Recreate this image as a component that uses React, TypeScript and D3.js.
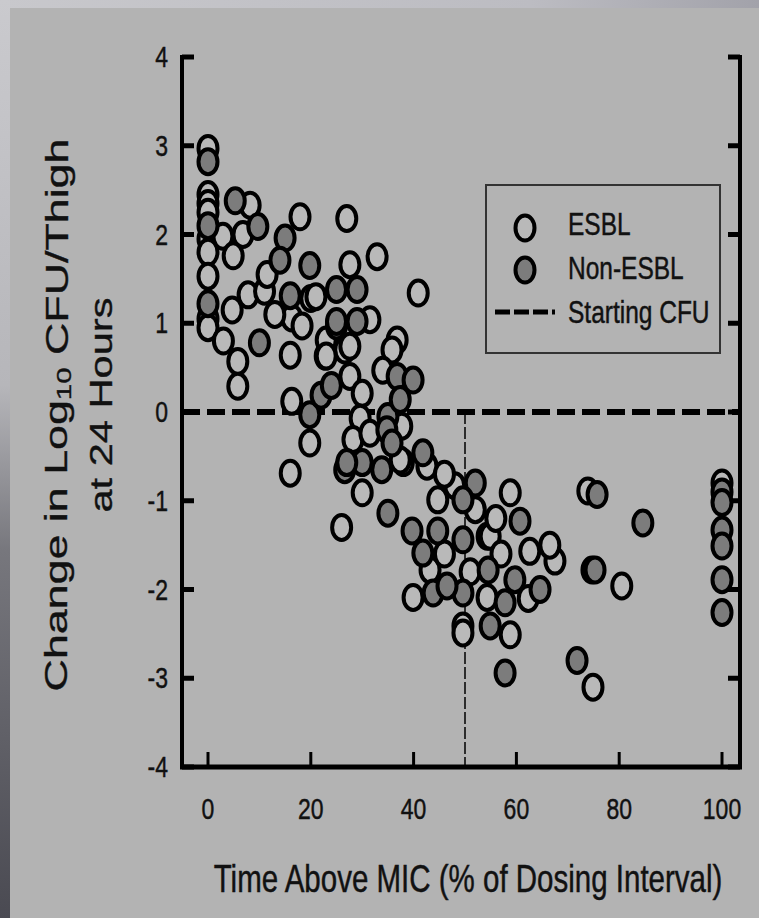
import React from "react";
import * as d3 from "d3";

const xTicks = [0, 20, 40, 60, 80, 100];
const yTicks = [4, 3, 2, 1, 0, -1, -2, -3, -4];

// ESBL (open markers): [time above MIC %, change in log10 CFU]
const esblX = [0, 0, 0, 0, 0, 0, 0, 0, 0,
  2.9, 6.8, 8.2, 17.9, 4.9, 7.8, 11, 20, 4.7, 16.3, 3, 5.8, 5.8, 16, 16.3, 19.8, 16, 26, 22.8, 26.6, 18.3,
  27, 32.9, 40.9, 27.6, 21, 31.5, 23, 27.6, 36.8, 35.8, 23, 34, 27.6, 30, 29.6, 11.5, 13,
  28.2, 38, 30, 44.7, 54.3, 39.9, 43.2, 49.6, 31.5, 37.7, 37.4, 48, 58.8, 54.9, 62.6, 67.5, 66.5,
  54.3, 62.3, 49.6, 58.8, 73.9, 74.7, 80.5, 74.9, 100, 42.6, 46, 52, 56, 57, 46, 51];
const esblY = [2.97, 2.45, 2.35, 2.25, 1.95, 1.8, 1.53, 1.05, 0.95,
  1.98, 2.0, 2.33, 2.2, 1.76, 1.32, 1.36, 1.28, 1.15, 1.06, 0.8, 0.57, 0.29, 0.64, 0.12, -0.35, -0.69, -1.3, 0.63, 0.7, 0.97,
  2.18, 1.75, 1.34, 1.66, 1.3, 1.04, 0.81, 0.74, 0.81, 0.7, 0.63, 0.47, 0.4, 0.21, -0.07, 1.55, 1.1,
  -0.31, -0.57, -0.91, -0.99, -1.4, -2.09, -1.78, -2.41, -0.24, -0.16, -0.54, -0.83, -0.91, -1.4, -1.57, -1.68, -1.5,
  -2.09, -2.1, -2.49, -2.51, -0.89, -1.78, -1.96, -3.1, -0.8, -0.61, -0.7, -1.1, -1.2, -1.6, -1.6, -1.8];

// Non-ESBL (filled markers)
const nonX = [0, 0, 0, 5.3, 9.7, 15, 14, 19.8, 16, 10, 19.8, 22, 24, 26.6, 25,
  25, 29, 25, 29, 36.8, 39.9, 35, 37.4,
  30, 33.8, 27, 34.8, 35.8, 41.8, 35, 39.7, 44.7, 41.8, 52, 49.6, 49.6, 54.5, 43.8, 49.6, 54.9,
  60.7, 59.7, 64.6, 57.8, 57.8, 75.7, 84.6, 75.3, 71.8, 46.5,
  100, 100, 100, 100, 100, 100];
const nonY = [2.82, 2.1, 1.22, 2.38, 2.09, 1.96, 1.71, 1.65, 1.31, 0.78, -0.03, 0.19, 0.3, -0.65, 0.97,
  1.38, 1.38, 1.02, 1.02, 0.4, 0.36, -0.05, 0.14,
  -0.57, -0.65, -0.57, -0.2, -0.35, -0.46, -1.14, -1.34, -1.34, -1.59, -0.8, -0.99, -1.44, -1.78, -2.04, -2.04, -2.41,
  -1.23, -1.89, -2.0, -2.15, -2.94, -0.93, -1.25, -1.78, -2.8, -1.96,
  -0.9, -1.02, -1.33, -1.51, -1.89, -2.26];

const legendLabels = ["ESBL", "Non-ESBL", "Starting CFU"];
const xTitle = "Time Above MIC (% of Dosing Interval)";
const thresholdX = 50;

const W = 759;
const H = 918;
const FONT = "'Liberation Sans', Arial, Helvetica, sans-serif";
const SY = 1.3;
const TXT = { fill: "#111", stroke: "#111", strokeWidth: 0.35 };

export default function App() {
  const x = d3.scaleLinear().domain([0, 100]).range([208, 722]);
  const y = d3.scaleLinear().domain([-4, 4]).range([767, 57]);
  const axL = 182;
  const axR = 740;
  const axB = 767;
  const axT = 55;
  const rx = 9.5;
  const ry = 12.5;
  const esbl = esblX.map((v, i) => ({ x: v, y: esblY[i] }));
  const non = nonX.map((v, i) => ({ x: v, y: nonY[i] }));

  return (
    <svg width={W} height={H} style={{ position: "absolute", left: 0, top: 0, display: "block" }} fontFamily={FONT}>
      <defs>
        <linearGradient id="leftEdge" x1="0" y1="0" x2="0" y2="1">
          <stop offset="0" stopColor="#cacace" />
          <stop offset="0.42" stopColor="#b6b6ba" />
          <stop offset="0.6" stopColor="#77777d" />
          <stop offset="1" stopColor="#4a4a52" />
        </linearGradient>
        <linearGradient id="topEdge" x1="0" y1="0" x2="1" y2="0">
          <stop offset="0" stopColor="#c8c8cc" />
          <stop offset="0.7" stopColor="#bcbcc2" />
          <stop offset="1" stopColor="#a2a2aa" />
        </linearGradient>
      </defs>
      <rect x={0} y={0} width={W} height={H} fill="#b3b3b3" />
      <rect x={0} y={0} width={W} height={8} fill="url(#topEdge)" />
      <rect x={0} y={0} width={10} height={H} fill="url(#leftEdge)" />

      {/* zero line */}
      <line x1={axL} x2={axR} y1={y(0)} y2={y(0)} stroke="#000" strokeWidth={6} strokeDasharray="18 7" />
      {/* 50% vertical dashed */}
      <line x1={x(thresholdX)} x2={x(thresholdX)} y1={y(0)} y2={axB} stroke="#000" strokeWidth={1.5} strokeDasharray="12 3" />

      {/* axes */}
      <line x1={axL} x2={axL} y1={axT} y2={axB + 2} stroke="#000" strokeWidth={4} />
      <line x1={axR} x2={axR} y1={axT} y2={axB + 2} stroke="#000" strokeWidth={4} />
      <line x1={axL - 2} x2={axR + 2} y1={axB} y2={axB} stroke="#000" strokeWidth={5} />
      {yTicks.map((t) => (
        <g key={"yt" + t}>
          <line x1={axL} x2={axL + 12} y1={y(t)} y2={y(t)} stroke="#000" strokeWidth={5} />
          <line x1={axR} x2={axR - 12} y1={y(t)} y2={y(t)} stroke="#000" strokeWidth={5} />
          <text transform={`translate(168,${y(t)}) scale(1,${SY})`} textAnchor="end" dominantBaseline="central" fontSize={23} {...TXT}>
            {t}
          </text>
        </g>
      ))}
      {xTicks.map((t) => (
        <g key={"xt" + t}>
          <line x1={x(t)} x2={x(t)} y1={axB} y2={axB - 15} stroke="#000" strokeWidth={3} />
          <text transform={`translate(${x(t)},809) scale(1,${SY})`} textAnchor="middle" dominantBaseline="central" fontSize={23} {...TXT}>
            {t}
          </text>
        </g>
      ))}

      {/* points */}
      {esbl.map((d, i) => (
        <ellipse key={"e" + i} cx={x(d.x)} cy={y(d.y)} rx={rx} ry={ry} fill="#b9b9b9" stroke="#000" strokeWidth={4} />
      ))}
      {non.map((d, i) => (
        <ellipse key={"n" + i} cx={x(d.x)} cy={y(d.y)} rx={rx} ry={ry} fill="#7c7c7c" stroke="#000" strokeWidth={4} />
      ))}

      {/* legend */}
      <rect x={486} y={185} width={234} height={168} fill="#b3b3b3" stroke="#333" strokeWidth={2} />
      <ellipse cx={525} cy={228} rx={rx} ry={ry} fill="#b9b9b9" stroke="#000" strokeWidth={4} />
      <ellipse cx={525} cy={270} rx={rx} ry={ry} fill="#7c7c7c" stroke="#000" strokeWidth={4} />
      <line x1={495} x2={555} y1={312} y2={312} stroke="#000" strokeWidth={5} strokeDasharray="15 4" />
      {legendLabels.map((l, i) => (
        <text key={l} transform={`translate(568,${235 + i * 44}) scale(1,${SY})`} fontSize={24.5} {...TXT}>
          {l}
        </text>
      ))}

      {/* axis titles */}
      <text transform={`translate(468,892) scale(1,${SY})`} textAnchor="middle" fontSize={29.5} {...TXT}>
        {xTitle}
      </text>
      <text transform={`translate(56,415) rotate(-90) scale(1.4,1)`} textAnchor="middle" dominantBaseline="central" fontSize={32} {...TXT}>
        Change in Log<tspan fontSize={21} dy={8}>10</tspan><tspan dy={-8}> CFU/Thigh</tspan>
      </text>
      <text transform={`translate(101,405) rotate(-90) scale(1.3,1)`} textAnchor="middle" dominantBaseline="central" fontSize={32} {...TXT}>
        at 24 Hours
      </text>
    </svg>
  );
}
